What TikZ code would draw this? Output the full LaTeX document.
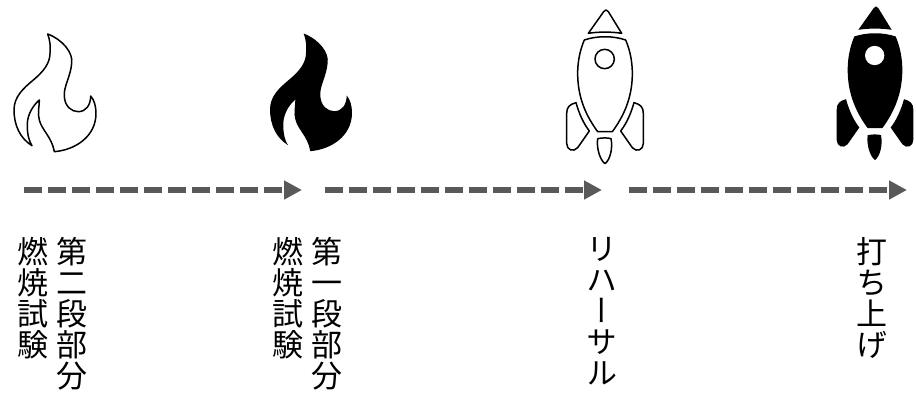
\documentclass[tikz,border=0pt]{standalone}
\usepackage{fontspec}
\newfontfamily\vjp[Vertical=Alternates]{Noto Sans CJK JP}
\usetikzlibrary{arrows.meta}
\lineskiplimit=-30pt
\definecolor{arrowgray}{HTML}{595959}
\tikzset{
  vlabel/.style={anchor=north,align=center,inner sep=0pt,text=black,font=\vjp\fontsize{31}{31}\selectfont},
  flow/.style={draw=arrowgray,line width=6pt,dash pattern=on 18.2pt off 5.8pt,-{Triangle[length=18pt,width=18pt,fill=arrowgray]}},
  outl/.style={draw=black,line width=1.5pt,fill=white,line join=round},
  solidf/.style={draw=none,fill=black},
  hole/.style={draw=none,fill=white}
}
\newcommand{\flamepath}{(143,42) .. controls (190,60) and (220,100) .. (215,130)
  .. controls (212,170) and (190,200) .. (193,230)
  .. controls (195,260) and (215,275) .. (235,275)
  .. controls (258,275) and (272,255) .. (272,228)
  .. controls (283,240) and (288,260) .. (288,280)
  .. controls (288,350) and (225,390) .. (163,395)
  .. controls (155,350) and (125,330) .. (118,300)
  .. controls (112,280) and (118,260) .. (118,240)
  .. controls (95,260) and (80,290) .. (82,320)
  .. controls (82,345) and (88,365) .. (96,377)
  .. controls (60,355) and (42,315) .. (42,270)
  .. controls (42,230) and (70,205) .. (100,180)
  .. controls (130,155) and (150,130) .. (150,100)
  .. controls (152,80) and (150,60) .. (143,42) -- cycle}
\newcommand{\rocketnose}{(146,20) .. controls (150,13) and (156,13) .. (160,20) -- (200,85) .. controls (170,80) and (130,80) .. (100,85) -- cycle}
\newcommand{\rocketbody}{(88,105) .. controls (125,92) and (175,92) .. (212,105)
  .. controls (225,135) and (232,170) .. (232,205)
  .. controls (232,280) and (205,335) .. (172,380) -- (128,380)
  .. controls (95,335) and (68,280) .. (68,205)
  .. controls (68,170) and (75,135) .. (88,105) -- cycle}
\newcommand{\rocketleft}{(63,293) .. controls (72,325) and (85,355) .. (103,378)
  -- (68,428) .. controls (55,443) and (35,435) .. (35,415) -- (35,325)
  .. controls (35,305) and (45,298) .. (63,293) -- cycle}
\newcommand{\rocketright}{(237,293) .. controls (228,325) and (215,355) .. (197,378)
  -- (232,428) .. controls (245,443) and (265,435) .. (265,415) -- (265,325)
  .. controls (265,305) and (255,298) .. (237,293) -- cycle}
\newcommand{\rocketflame}{(128,401) .. controls (140,398) and (160,398) .. (168,401)
  .. controls (174,430) and (165,465) .. (150,476)
  .. controls (135,465) and (124,430) .. (128,401) -- cycle}
\begin{document}
\begin{tikzpicture}[x=1pt,y=-1pt]
\useasboundingbox (0,0) rectangle (916,394);
% flames
\begin{scope}[shift={(0,20)},scale=1/3]
  \path[outl] \flamepath;
\end{scope}
\begin{scope}[shift={(256,19.5)},scale=1/3]
  \path[solidf] \flamepath;
\end{scope}
% outline rocket
\begin{scope}[shift={(555,5)},scale=1/3]
  \path[outl] \rocketnose;
  \path[outl] \rocketbody;
  \path[outl] (149,162) circle[radius=29];
  \path[outl] \rocketleft;
  \path[outl] \rocketright;
  \path[outl] \rocketflame;
\end{scope}
% solid rocket
\begin{scope}[shift={(825,1.5)},scale=1/3]
  \path[solidf] \rocketnose;
  \path[solidf] \rocketbody;
  \path[hole] (149,162) circle[radius=29];
  \path[solidf] \rocketleft;
  \path[solidf] \rocketright;
  \path[solidf] \rocketflame;
\end{scope}
% arrows
\coordinate (a1s) at (24,190);  \coordinate (a1e) at (302,190);
\coordinate (a2s) at (325,190); \coordinate (a2e) at (602,190);
\coordinate (a3s) at (629,190); \coordinate (a3e) at (907,190);
\draw[flow] (a1s) -- (a1e);
\draw[flow] (a2s) -- (a2e);
\draw[flow] (a3s) -- (a3e);
% labels
\node[vlabel] (l1a) at (72,237) {第\\二\\段\\部\\分};
\node[vlabel] (l1b) at (33,237) {燃\\焼\\試\\験};
\node[vlabel] (l2a) at (327,237) {第\\一\\段\\部\\分};
\node[vlabel] (l2b) at (288,237) {燃\\焼\\試\\験};
\node[vlabel] (l3) at (602,237) {リ\\ハ\\ー\\サ\\ル};
\node[vlabel] (l4) at (872,237) {打\\ち\\上\\げ};
\end{tikzpicture}
\end{document}
